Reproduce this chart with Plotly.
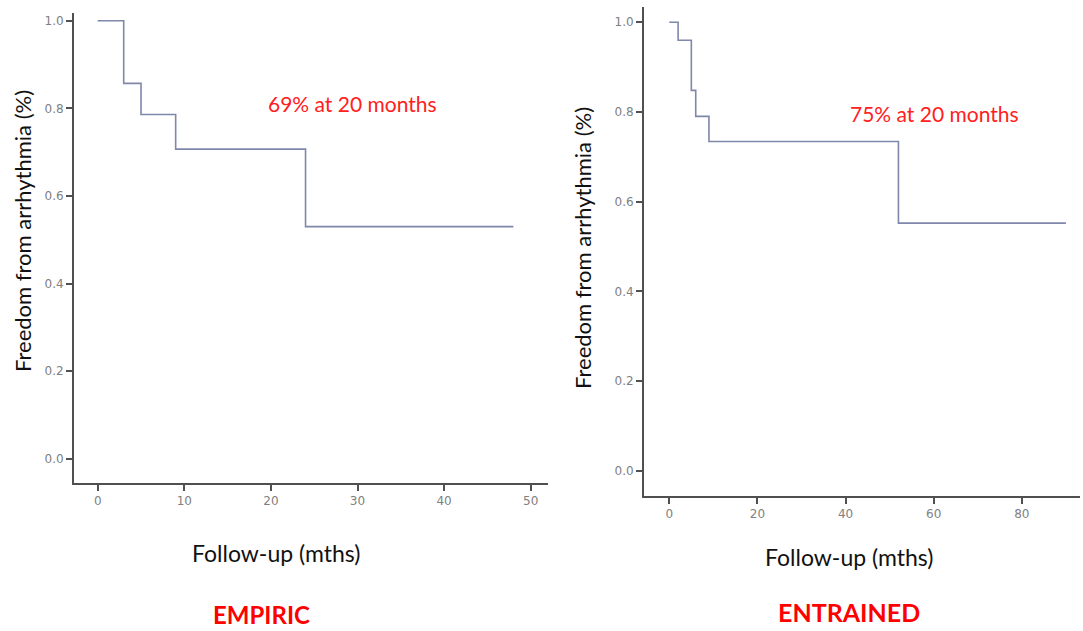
import plotly.graph_objects as go

# Kaplan-Meier step data
empiric_t = [0, 3, 5, 9, 24, 48]
empiric_s = [1.0, 0.857, 0.786, 0.707, 0.530, 0.530]

entrained_t = [0, 2, 5, 6, 9, 52, 90]
entrained_s = [1.0, 0.960, 0.848, 0.790, 0.734, 0.552, 0.552]

y_ticks = [0.0, 0.2, 0.4, 0.6, 0.8, 1.0]
x_ticks_left = [0, 10, 20, 30, 40, 50]
x_ticks_right = [0, 20, 40, 60, 80]

W, H = 1083, 631
line_color = "#7f87aa"
axis_color = "#505050"
tick_font = dict(family="DejaVu Sans", size=12, color="#808080")
txt_font = "Lato"

fig = go.Figure()
fig.add_trace(go.Scatter(x=empiric_t, y=empiric_s, mode="lines",
                         line=dict(shape="hv", color=line_color, width=1.6),
                         xaxis="x", yaxis="y", showlegend=False, hoverinfo="skip"))
fig.add_trace(go.Scatter(x=entrained_t, y=entrained_s, mode="lines",
                         line=dict(shape="hv", color=line_color, width=1.6),
                         xaxis="x2", yaxis="y2", showlegend=False, hoverinfo="skip"))

def ax(domain, rng, ticks, anchor):
    return dict(domain=domain, range=rng, tickvals=ticks,
                ticktext=[f"{t:g}" if isinstance(t, int) else f"{t:.1f}" for t in ticks],
                showgrid=False, zeroline=False, showline=True, linecolor=axis_color,
                linewidth=2, ticks="outside", ticklen=6, tickwidth=1.5,
                tickcolor=axis_color, tickfont=tick_font, anchor=anchor, fixedrange=True)

fig.update_layout(
    width=W, height=H, margin=dict(l=0, r=0, t=0, b=0),
    paper_bgcolor="white", plot_bgcolor="white",
    xaxis=ax([74 / W, 548 / W], [-2.74, 52.0], x_ticks_left, "y"),
    yaxis=ax([1 - 483 / H, 1 - 13 / H], [-0.055, 1.0176], y_ticks, "x"),
    xaxis2=ax([644 / W, 1080 / W], [-5.74, 93.2], x_ticks_right, "y2"),
    yaxis2=ax([1 - 496 / H, 1 - 7 / H], [-0.0565, 1.034], y_ticks, "x2"),
)

def note(x, y, text, size, color="#111111", bold=False, angle=0):
    fig.add_annotation(x=x / W, y=1 - y / H, xref="paper", yref="paper",
                       text=f"<b>{text}</b>" if bold else text, showarrow=False,
                       textangle=angle, xanchor="center", yanchor="middle",
                       font=dict(family=txt_font, size=size, color=color))

note(22, 231, "Freedom from arrhythmia (%)", 22, angle=-90)
note(583, 248, "Freedom from arrhythmia (%)", 22, angle=-90)
note(276, 553, "Follow-up (mths)", 23)
note(849, 557, "Follow-up (mths)", 23)
note(261, 614, "EMPIRIC", 24, color="#ff0000", bold=True)
note(849, 612, "ENTRAINED", 25, color="#ff0000", bold=True)
note(352, 103, "69% at 20 months", 21, color="#ff2020")
note(934, 114, "75% at 20 months", 21, color="#ff2020")

fig.write_html("out.html", config={"displayModeBar": False},
               post_script="document.body.style.margin='0';")
